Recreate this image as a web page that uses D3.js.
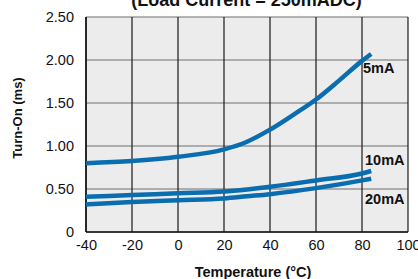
<!DOCTYPE html>
<html>
<head>
<meta charset="utf-8">
<script src="https://cdn.jsdelivr.net/npm/d3@7"></script>
<style>
  body { margin: 0; background: #fff; }
  svg { display: block; font-family: "Liberation Sans", Arial, sans-serif; }
</style>
</head>
<body>
<svg id="chart" width="418" height="279"></svg>
<script>
// data
const xTicks = [-40, -20, 0, 20, 40, 60, 80, 100];
const yTicks = [0, 0.5, 1.0, 1.5, 2.0, 2.5];

const temps5 = [-40, -20, 0, 20, 30, 40, 50, 60, 70, 80, 84];
const vals5 = [0.80, 0.825, 0.875, 0.96, 1.05, 1.19, 1.36, 1.54, 1.76, 1.99, 2.07];

const temps10 = [-40, -20, 0, 20, 30, 40, 60, 80, 84];
const vals10 = [0.41, 0.43, 0.45, 0.47, 0.495, 0.525, 0.60, 0.68, 0.71];

const temps20 = [-40, -20, 0, 20, 30, 40, 60, 80, 84];
const vals20 = [0.32, 0.35, 0.37, 0.39, 0.415, 0.44, 0.51, 0.60, 0.62];

const seriesNames = ["5mA", "10mA", "20mA"];

const svg = d3.select("#chart");

// plot box (names avoid window.top clash)
const plotL = 86, plotR = 408, plotT = 17, plotB = 232;

const x = d3.scaleLinear().domain([-40, 100]).range([plotL, plotR]);
const y = d3.scaleLinear().domain([0, 2.5]).range([plotB, plotT]);

// background
svg.append("rect")
    .attr("x", plotL)
    .attr("y", plotT)
    .attr("width", plotR - plotL)
    .attr("height", plotB - plotT)
    .attr("fill", "#ececec");

// horizontal grid (gray)
svg.append("g")
    .selectAll("line")
    .data(yTicks)
    .join("line")
    .attr("x1", plotL)
    .attr("x2", plotR)
    .attr("y1", d => y(d))
    .attr("y2", d => y(d))
    .attr("stroke", "#6e6e6e")
    .attr("stroke-width", 1.2);

// vertical grid (black)
svg.append("g")
    .selectAll("line")
    .data(xTicks)
    .join("line")
    .attr("x1", d => x(d))
    .attr("x2", d => x(d))
    .attr("y1", plotT)
    .attr("y2", plotB)
    .attr("stroke", "#1a1a1a")
    .attr("stroke-width", 1.2);

// axis frame lines
svg.append("line")
    .attr("x1", plotL).attr("x2", plotL)
    .attr("y1", plotT).attr("y2", plotB)
    .attr("stroke", "#111").attr("stroke-width", 1.5);
svg.append("line")
    .attr("x1", plotL).attr("x2", plotR)
    .attr("y1", plotB).attr("y2", plotB)
    .attr("stroke", "#111").attr("stroke-width", 1.5);

// y axis labels
const yAxis = d3.axisLeft(y)
    .tickValues(yTicks)
    .tickSize(0)
    .tickPadding(12)
    .tickFormat(d => d === 0 ? "0" : d3.format(".2f")(d));
svg.append("g")
    .attr("transform", `translate(${plotL},0)`)
    .call(yAxis)
    .call(g => g.select(".domain").remove())
    .selectAll("text")
    .attr("font-family", "Liberation Sans, Arial, sans-serif")
    .attr("font-size", "14.5px")
    .attr("fill", "#111");

// x axis labels (plain hyphen for negatives, like the original)
const xAxis = d3.axisBottom(x)
    .tickValues(xTicks)
    .tickSize(0)
    .tickPadding(8)
    .tickFormat(d => String(d));
svg.append("g")
    .attr("transform", `translate(0,${plotB})`)
    .call(xAxis)
    .call(g => g.select(".domain").remove())
    .selectAll("text")
    .attr("font-family", "Liberation Sans, Arial, sans-serif")
    .attr("font-size", "14.5px")
    .attr("fill", "#111");

// curves
const series = [
    { name: seriesNames[0], pts: temps5.map((t, i) => [t, vals5[i]]) },
    { name: seriesNames[1], pts: temps10.map((t, i) => [t, vals10[i]]) },
    { name: seriesNames[2], pts: temps20.map((t, i) => [t, vals20[i]]) }
];

const line = d3.line()
    .x(d => x(d[0]))
    .y(d => y(d[1]))
    .curve(d3.curveMonotoneX);

svg.append("g")
    .selectAll("path")
    .data(series)
    .join("path")
    .attr("d", d => line(d.pts))
    .attr("fill", "none")
    .attr("stroke", "#0a6db0")
    .attr("stroke-width", 4.5);

// series labels
const labelPos = [[363, 73], [365, 165], [365, 204]];
svg.append("g")
    .selectAll("text")
    .data(series)
    .join("text")
    .attr("x", (d, i) => labelPos[i][0])
    .attr("y", (d, i) => labelPos[i][1])
    .attr("font-weight", "bold")
    .attr("font-size", "14.5px")
    .attr("fill", "#111")
    .text(d => d.name);

// title (cut at top, as in the original)
svg.append("text")
    .attr("x", 246.5)
    .attr("y", 6)
    .attr("text-anchor", "middle")
    .attr("font-weight", "bold")
    .attr("font-size", "18px")
    .attr("fill", "#111")
    .text("(Load Current = 250mADC)");

// axis titles
svg.append("text")
    .attr("x", 253)
    .attr("y", 277)
    .attr("text-anchor", "middle")
    .attr("font-weight", "bold")
    .attr("font-size", "14.5px")
    .attr("fill", "#111")
    .text("Temperature (°C)");

svg.append("text")
    .attr("transform", "translate(22,118) rotate(-90)")
    .attr("text-anchor", "middle")
    .attr("font-weight", "bold")
    .attr("font-size", "13px")
    .attr("fill", "#111")
    .text("Turn-On (ms)");
</script>
</body>
</html>
